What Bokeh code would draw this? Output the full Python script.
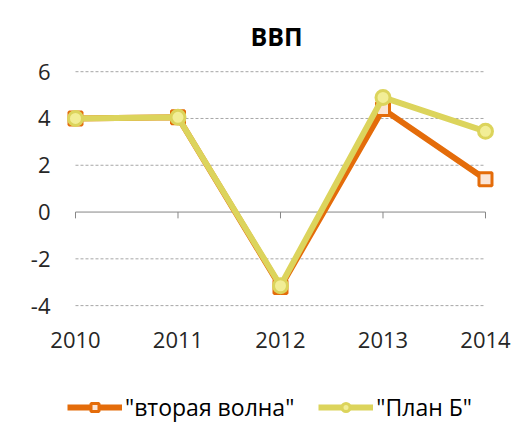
from bokeh.plotting import figure
from bokeh.models import Range1d, Legend, LegendItem
from bokeh.core.properties import value
from bokeh.embed import file_html
from bokeh.resources import INLINE

years = [2010, 2011, 2012, 2013, 2014]
year_labels = ["2010", "2011", "2012", "2013", "2014"]
vtoraya = [4.0, 4.05, -3.2, 4.4, 1.4]
plan_b = [4.0, 4.05, -3.15, 4.9, 3.45]
y_ticks = [-4, -2, 0, 2, 4, 6]
y_tick_labels = ["-4", "-2", "0", "2", "4", "6"]
grid_levels = [-4, -2, 2, 4, 6]

ORANGE = "#E46C0A"
YELLOW = "#DCD45C"
FONT = "Open Sans"
YEAR_LABEL_Y = -5.45
VALUE_LABEL_X = 2009.756

p = figure(frame_width=501, frame_height=364, output_backend="svg", toolbar_location=None,
           x_range=Range1d(2009.3659, 2014.2537), y_range=Range1d(-9.21, 6.35),
           min_border_left=10, min_border_right=0, min_border_top=63, min_border_bottom=0)
p.outline_line_color = None
p.xgrid.visible = False
p.ygrid.visible = False
p.xaxis.visible = False
p.yaxis.visible = False

p.title.text = "ВВП"
p.title.align = "left"
p.title.offset = 240
p.title.text_font = FONT
p.title.text_font_size = "25px"
p.title.text_font_style = "bold"
p.title.text_color = "#000000"
p.title.standoff = 22

# gridlines
p.segment(x0=[years[0]] * len(grid_levels), x1=[years[-1]] * len(grid_levels),
          y0=grid_levels, y1=grid_levels, line_color="#A6A6A6", line_width=1, line_dash="3 2")
# zero axis line and ticks
p.segment(x0=[years[0]], x1=[years[-1]], y0=[0], y1=[0], line_color="#868686", line_width=1)
p.segment(x0=years, x1=years, y0=[0] * len(years), y1=[-0.27] * len(years),
          line_color="#868686", line_width=1)
# category (year) labels
p.text(x=years, y=[YEAR_LABEL_Y] * len(years), text=year_labels,
       text_font=value(FONT), text_font_size="22px", text_color="#262626",
       text_align="center", text_baseline="middle")
# value axis labels
p.text(x=[VALUE_LABEL_X] * len(y_ticks), y=y_ticks, text=y_tick_labels,
       text_font=value(FONT), text_font_size="22px", text_color="#262626",
       text_align="right", text_baseline="middle")

r1l = p.line(years, vtoraya, line_color=ORANGE, line_width=6)
r1m = p.scatter(years, vtoraya, marker="square", size=13, line_color=ORANGE,
                line_width=3, fill_color="#FBE5D6")
r2l = p.line(years, plan_b, line_color=YELLOW, line_width=6)
r2m = p.scatter(years, plan_b, marker="circle", size=14, line_color=YELLOW,
                line_width=3, fill_color="#F2EE96")

legend = Legend(items=[LegendItem(label='"вторая волна"', renderers=[r1l, r1m]),
                       LegendItem(label='"План Б"', renderers=[r2l, r2m])],
                orientation="horizontal", location=(57, 4),
                glyph_width=55, glyph_height=20, label_text_font=FONT,
                label_text_font_size="23px", label_text_color="#000000",
                label_standoff=3, spacing=24, border_line_color=None,
                background_fill_alpha=0, margin=0, padding=3)
p.add_layout(legend, "center")

open("out.html", "w").write(file_html(p, INLINE))
